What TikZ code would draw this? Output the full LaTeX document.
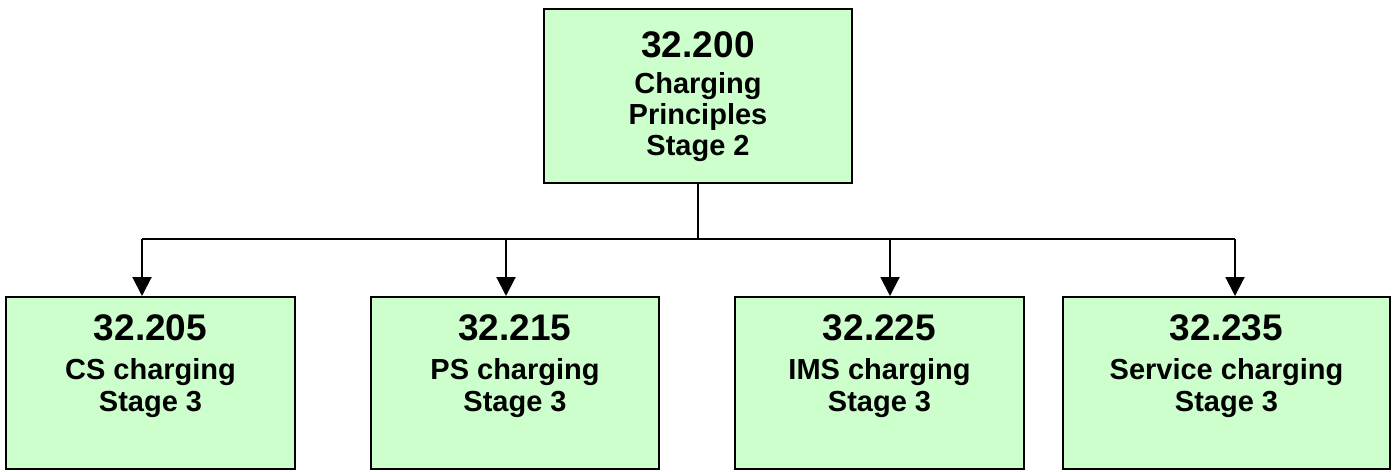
\documentclass[tikz,border=0pt]{standalone}
\usepackage{fontspec}
\setmainfont{Liberation Sans}
\usetikzlibrary{arrows.meta}
\definecolor{boxgreen}{HTML}{CCFFCC}
\tikzset{
  specbox/.style={draw=black, line width=2pt, fill=boxgreen, inner sep=0pt},
  numtxt/.style={anchor=base, inner sep=0pt, font=\bfseries\fontsize{37}{40}\selectfont},
  linetxt/.style={anchor=base, inner sep=0pt, font=\bfseries\fontsize{29}{32}\selectfont},
  wire/.style={line width=2pt},
  feed/.style={line width=2pt, -{Triangle[length=19pt,width=19pt]}}
}
\begin{document}
\begin{tikzpicture}[x=1pt, y=-1pt]
  \useasboundingbox (0,0) rectangle (1396,471);

  % parent specification
  \node[specbox, minimum width=308pt, minimum height=174pt] (top) at (698,96) {};
  \node[numtxt]  (t0) at (698,57)  {32.200};
  \node[linetxt] (t1) at (698,93)  {Charging};
  \node[linetxt] (t2) at (698,124) {Principles};
  \node[linetxt] (t3) at (698,155) {Stage 2};

  % child specifications
  \node[specbox, minimum width=289pt, minimum height=172pt] (b1) at (150.5,383) {};
  \node[specbox, minimum width=288pt, minimum height=172pt] (b2) at (515,383) {};
  \node[specbox, minimum width=289pt, minimum height=172pt] (b3) at (879.5,383) {};
  \node[specbox, minimum width=327pt, minimum height=172pt] (b4) at (1226.5,383) {};

  \node[numtxt]  (n1) at (150.5,340) {32.205};
  \node[linetxt] (c1) at (150.5,379) {CS charging};
  \node[linetxt] (s1) at (150.5,411) {Stage 3};

  \node[numtxt]  (n2) at (515,340) {32.215};
  \node[linetxt] (c2) at (515,379) {PS charging};
  \node[linetxt] (s2) at (515,411) {Stage 3};

  \node[numtxt]  (n3) at (879.5,340) {32.225};
  \node[linetxt] (c3) at (879.5,379) {IMS charging};
  \node[linetxt] (s3) at (879.5,411) {Stage 3};

  \node[numtxt]  (n4) at (1226.5,340) {32.235};
  \node[linetxt] (c4) at (1226.5,379) {Service charging};
  \node[linetxt] (s4) at (1226.5,411) {Stage 3};

  % distribution bus
  \coordinate (j1) at (142,239);
  \coordinate (j2) at (506,239);
  \coordinate (j3) at (890,239);
  \coordinate (j4) at (1235,239);

  \draw[wire] (top.south) -- (top.south |- j1);
  \draw[wire] (j1) -- (j4);
  \draw[feed] (j1) -- (j1 |- b1.north);
  \draw[feed] (j2) -- (j2 |- b2.north);
  \draw[feed] (j3) -- (j3 |- b3.north);
  \draw[feed] (j4) -- (j4 |- b4.north);
\end{tikzpicture}
\end{document}
